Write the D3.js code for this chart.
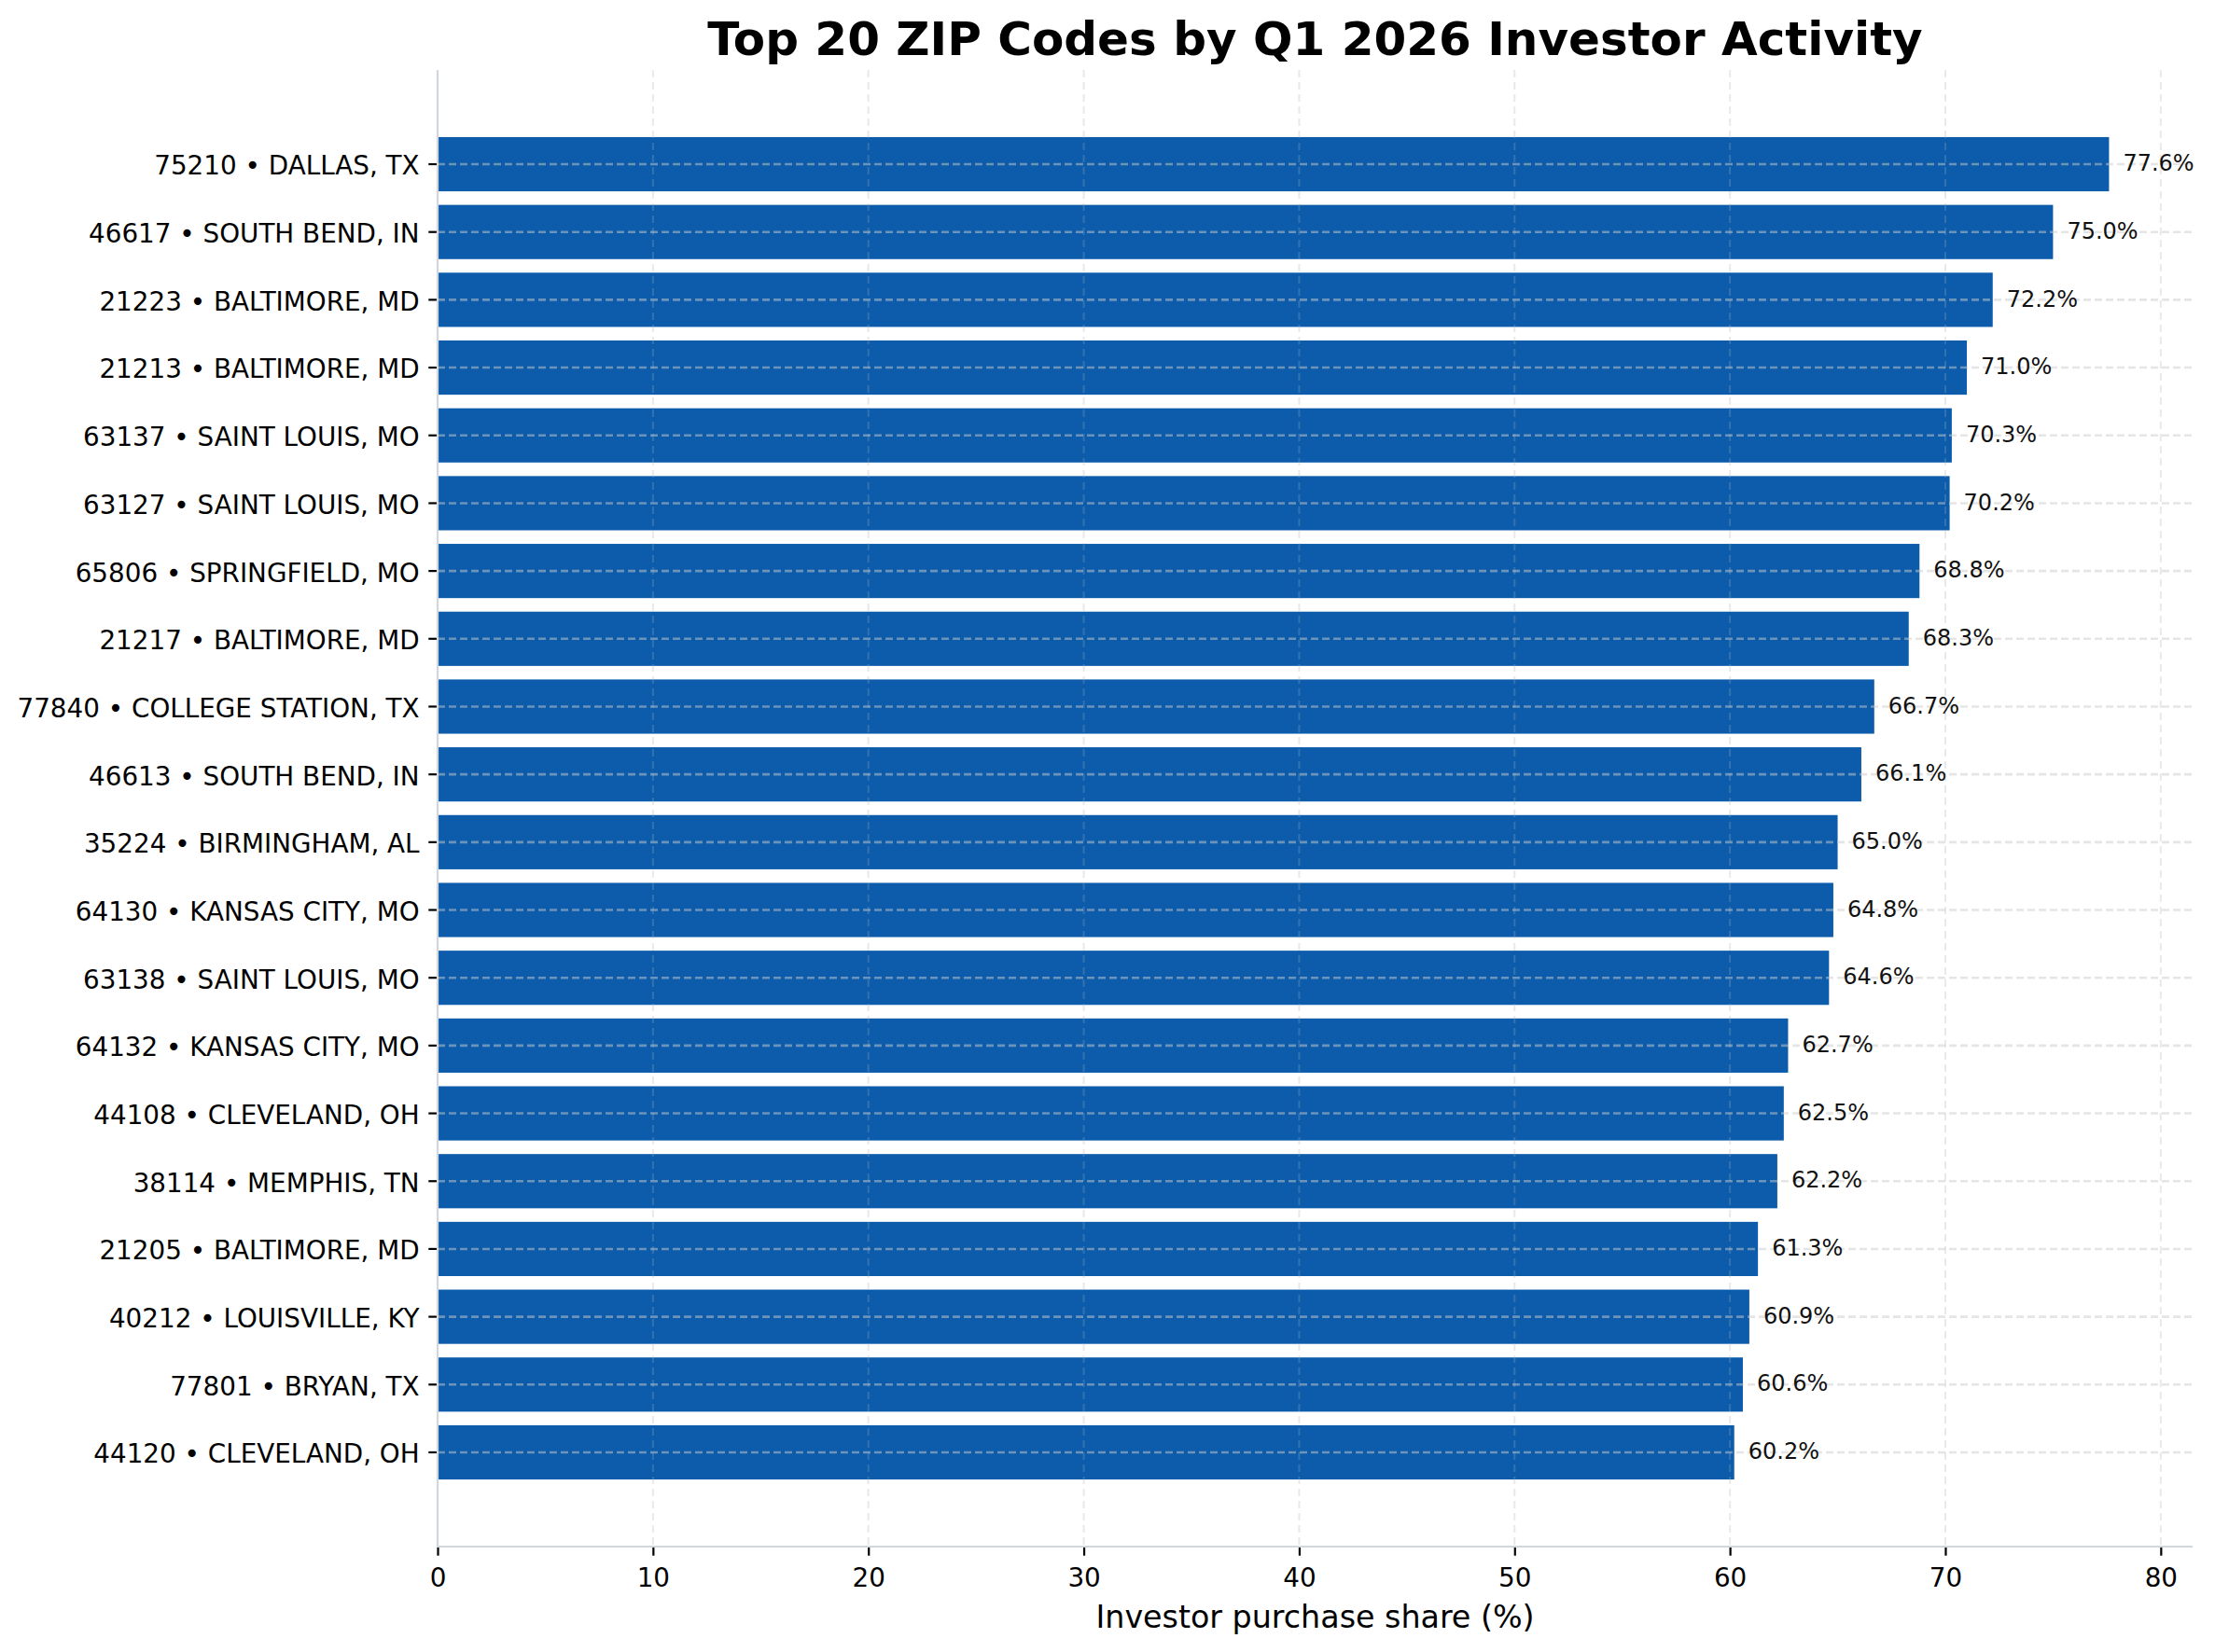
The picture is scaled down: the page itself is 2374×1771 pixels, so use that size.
<!DOCTYPE html>
<html>
<head>
<meta charset="utf-8">
<script src="https://cdn.jsdelivr.net/npm/d3@7"></script>
<style>
  body { margin: 0; background: #fff; }
  text { font-family: "DejaVu Sans", sans-serif; }
</style>
</head>
<body>
<div id="chart"></div>
<script>
const zips = ["75210", "46617", "21223", "21213", "63137", "63127", "65806", "21217", "77840", "46613",
  "35224", "64130", "63138", "64132", "44108", "38114", "21205", "40212", "77801", "44120"];
const cities = ["DALLAS, TX", "SOUTH BEND, IN", "BALTIMORE, MD", "BALTIMORE, MD", "SAINT LOUIS, MO",
  "SAINT LOUIS, MO", "SPRINGFIELD, MO", "BALTIMORE, MD", "COLLEGE STATION, TX", "SOUTH BEND, IN",
  "BIRMINGHAM, AL", "KANSAS CITY, MO", "SAINT LOUIS, MO", "KANSAS CITY, MO", "CLEVELAND, OH",
  "MEMPHIS, TN", "BALTIMORE, MD", "LOUISVILLE, KY", "BRYAN, TX", "CLEVELAND, OH"];
const shares = [77.6, 75.0, 72.2, 71.0, 70.3, 70.2, 68.8, 68.3, 66.7, 66.1,
  65.0, 64.8, 64.6, 62.7, 62.5, 62.2, 61.3, 60.9, 60.6, 60.2];
const xTicks = [0, 10, 20, 30, 40, 50, 60, 70, 80];

const data = zips.map((z, i) => ({ label: `${z} • ${cities[i]}`, value: shares[i] }));

const W = 2374, H = 1771;
const plotL = 469, plotR = 2350, plotT = 75, plotB = 1658;

const svg = d3.select("#chart").append("svg")
  .attr("width", W)
  .attr("height", H);

const x = d3.scaleLinear()
  .domain([0, d3.max(shares) * 1.05])
  .range([plotL, plotR]);

// matplotlib-like margins: 0.05 of the bar extent on each side
const step = (plotB - plotT) / (data.length - 0.2 + 2 * 0.05 * (data.length - 0.2));
const y = d3.scaleBand()
  .domain(data.map(d => d.label))
  .range([plotT + 0.89 * step, plotB - 0.89 * step])
  .paddingInner(0.2)
  .paddingOuter(0.1);

// vertical grid
svg.append("g")
  .selectAll("line")
  .data(xTicks)
  .enter()
  .append("line")
  .attr("x1", d => x(d))
  .attr("x2", d => x(d))
  .attr("y1", plotT)
  .attr("y2", plotB)
  .style("stroke", "#cccccc")
  .style("stroke-opacity", 0.28)
  .style("stroke-width", 2)
  .style("stroke-dasharray", "8,5");

// bars
svg.append("g")
  .selectAll("rect")
  .data(data)
  .enter()
  .append("rect")
  .attr("x", x(0))
  .attr("y", d => y(d.label))
  .attr("width", d => x(d.value) - x(0))
  .attr("height", y.bandwidth())
  .style("fill", "#0d5cab");

// vertical grid over bars (faint)
svg.append("g")
  .selectAll("line")
  .data(xTicks)
  .enter()
  .append("line")
  .attr("x1", d => x(d))
  .attr("x2", d => x(d))
  .attr("y1", plotT)
  .attr("y2", plotB)
  .style("stroke", "#cccccc")
  .style("stroke-opacity", 0.2)
  .style("stroke-width", 2)
  .style("stroke-dasharray", "8,5");

// horizontal grid at category centers
svg.append("g")
  .selectAll("line")
  .data(data)
  .enter()
  .append("line")
  .attr("x1", plotL)
  .attr("x2", plotR)
  .attr("y1", d => y(d.label) + y.bandwidth() / 2)
  .attr("y2", d => y(d.label) + y.bandwidth() / 2)
  .style("stroke", "#cccccc")
  .style("stroke-opacity", 0.5)
  .style("stroke-width", 2.6)
  .style("stroke-dasharray", "8,4");

// value labels
svg.append("g")
  .selectAll("text")
  .data(data)
  .enter()
  .append("text")
  .attr("x", d => x(d.value) + 15)
  .attr("y", d => y(d.label) + y.bandwidth() / 2)
  .attr("dy", "0.3em")
  .style("font-size", "24px")
  .style("fill", "#111")
  .text(d => d.value.toFixed(1) + "%");

// y axis
const yAxis = svg.append("g")
  .attr("transform", `translate(${plotL},0)`)
  .call(d3.axisLeft(y).tickSize(9.7).tickPadding(9.7));
yAxis.select(".domain").remove();
yAxis.selectAll(".tick line").style("stroke", "#000").style("stroke-width", 2.2);
yAxis.selectAll(".tick text")
  .attr("dy", "0.41em")
  .style("font-size", "27.8px")
  .style("font-family", "'DejaVu Sans', sans-serif")
  .style("fill", "#000");

// x axis
const xAxis = svg.append("g")
  .attr("transform", `translate(0,${plotB})`)
  .call(d3.axisBottom(x).tickValues(xTicks).tickSize(9.7).tickPadding(9.7));
xAxis.select(".domain").remove();
xAxis.selectAll(".tick line").style("stroke", "#000").style("stroke-width", 2.2);
xAxis.selectAll(".tick text")
  .attr("dy", "0.85em")
  .style("font-size", "27.8px")
  .style("font-family", "'DejaVu Sans', sans-serif")
  .style("fill", "#000");

// spines
svg.append("line")
  .attr("x1", plotL).attr("x2", plotL)
  .attr("y1", plotT).attr("y2", plotB + 1.1)
  .style("stroke", "#d0d7df")
  .style("stroke-width", 2.2);
svg.append("line")
  .attr("x1", plotL - 1.1).attr("x2", plotR)
  .attr("y1", plotB).attr("y2", plotB)
  .style("stroke", "#d0d7df")
  .style("stroke-width", 2.2);

// title
svg.append("text")
  .attr("x", (plotL + plotR) / 2)
  .attr("y", 59)
  .attr("text-anchor", "middle")
  .style("font-size", "50px")
  .style("font-weight", "bold")
  .style("fill", "#000")
  .text("Top 20 ZIP Codes by Q1 2026 Investor Activity");

// x label
svg.append("text")
  .attr("x", (plotL + plotR) / 2)
  .attr("y", 1745)
  .attr("text-anchor", "middle")
  .style("font-size", "33.3px")
  .style("fill", "#000")
  .text("Investor purchase share (%)");
</script>
</body>
</html>
